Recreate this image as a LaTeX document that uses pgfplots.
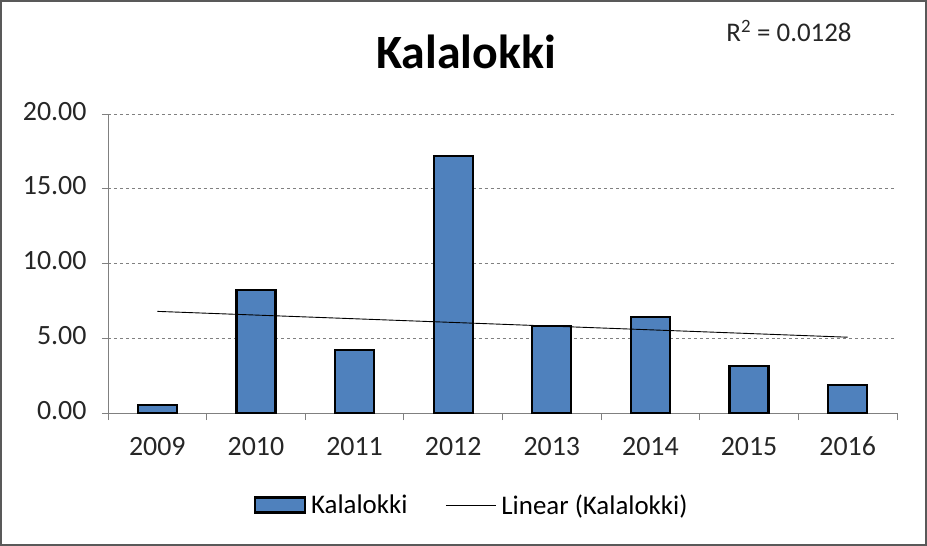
\documentclass[border=0pt]{standalone}
\usepackage{pgfplots}
\usepackage{pgfplotstable}
\pgfplotsset{compat=1.18}
\usepackage{fontspec}
\setmainfont{Carlito}
\definecolor{barblue}{HTML}{4F81BD}
\pgfplotsset{
  barlegend/.style={legend image code/.code={\draw[##1] (0bp,-7.5bp) rectangle (50bp,7.5bp);}},
  linelegend/.style={legend image code/.code={\draw[##1] (0bp,0bp) -- (50bp,0bp);}},
}
\pgfplotstableread{
x year v
1 2009 0.54
2 2010 8.23
3 2011 4.21
4 2012 17.20
5 2013 5.83
6 2014 6.43
7 2015 3.15
8 2016 1.88
}\datatable
\begin{document}
\begin{tikzpicture}
\path[use as bounding box] (-108bp,-133bp) rectangle (819bp,413bp);
\draw[gray!70!black, line width=2bp] (-107bp,-132bp) rectangle (818bp,412bp);
\begin{axis}[
  at={(0,0)}, anchor=origin,
  scale only axis,
  width=789bp, height=299bp,
  xmin=0.5, xmax=8.5,
  ymin=0, ymax=20,
  ytick={0,5,10,15,20},
  xtick={1,...,8},
  xticklabels={2009,2010,2011,2012,2013,2014,2015,2016},
  minor xtick={0.5,1.5,...,8.5},
  major x tick style={draw=none},
  minor x tick style={gray, line width=0.8bp},
  tick align=outside,
  major tick length=6bp, minor tick length=7bp,
  y tick style={gray, line width=0.8bp},
  axis x line*=bottom, axis y line*=left,
  axis line style={gray, line width=0.8bp, -},
  ymajorgrids,
  grid style={gray, dashed, line width=0.5bp},
  yticklabel style={/pgf/number format/fixed, /pgf/number format/fixed zerofill, /pgf/number format/precision=2, /pgf/number format/assume math mode=true, xshift=-12bp, yshift=-3bp},
  tick label style={font=\fontsize{28}{30}\selectfont, text=black!85, text height=0.65em, text depth=0pt},
  xticklabel style={yshift=-27bp},
  legend style={at={(0.461,-0.308)}, anchor=center, draw=none, fill=none,
     font=\fontsize{27}{29}\selectfont, legend columns=2,
     column sep=3bp,
     /tikz/every even column/.append style={column sep=36bp}},
  clip=false,
]
\addplot[ybar, bar width=39bp, fill=barblue, draw=black, line width=2.2bp, barlegend]
  table[x=x, y=v] {\datatable};
\addlegendentry{Kalalokki}
\addplot[black, line width=0.9bp, no marks, linelegend]
  table[x=x, y={create col/linear regression={y=v}}] {\datatable};
\addlegendentry{Linear (Kalalokki)}
\end{axis}
\node[font=\bfseries\fontsize{48}{50}\selectfont] at (358bp,361bp) {Kalalokki};
\node[font=\fontsize{27}{29}\selectfont, text=black!85] at (681bp,382bp) {R\textsuperscript{2} = 0.0128};
\end{tikzpicture}
\end{document}
